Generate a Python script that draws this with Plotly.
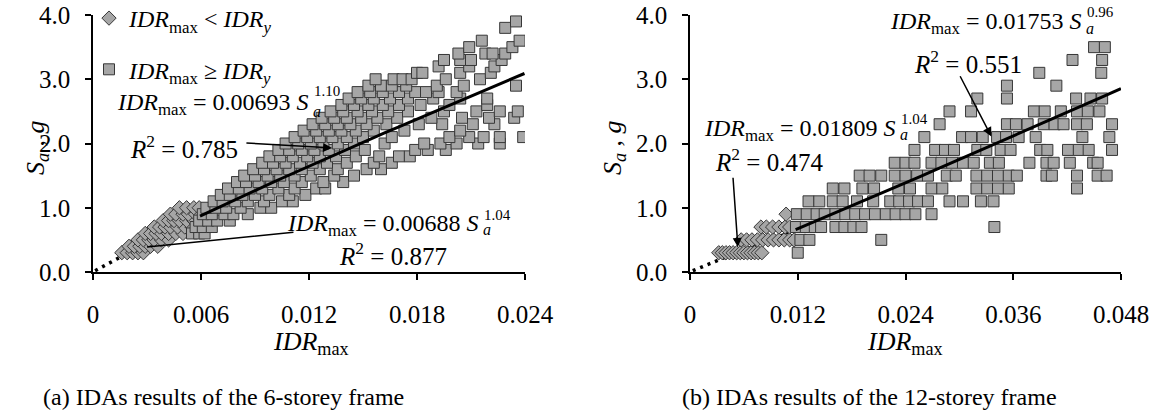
import plotly.graph_objects as go

FONT = "Liberation Serif"
W, H = 1155, 419

# ---------------- DATA ----------------
# IDR_max values are given in units of 1e-3 (per-mille) per Sa level (g)

# (a) 6-storey frame, IDR_max < IDR_y  (diamonds)
a_dia_sa = [0.3, 0.4, 0.5, 0.6, 0.7, 0.8, 0.9, 1.0]
a_dia_idr = [
    [1.6, 1.9, 2.2, 2.5, 2.8],
    [2.0, 2.3, 2.6, 2.9, 3.2, 3.6],
    [2.5, 2.8, 3.1, 3.4, 3.8, 4.2],
    [2.9, 3.2, 3.5, 3.8, 4.2, 4.6, 5.0],
    [3.4, 3.7, 4.0, 4.3, 4.7, 5.1, 5.5],
    [3.9, 4.2, 4.5, 4.8, 5.2, 5.6],
    [4.3, 4.6, 5.0, 5.3, 5.7],
    [4.8, 5.2, 5.6, 5.9],
]

# (a) 6-storey frame, IDR_max >= IDR_y  (squares)
a_sq_sa = [0.6, 0.7, 0.8, 0.9, 1.0, 1.1, 1.2, 1.3, 1.4, 1.5, 1.6, 1.7, 1.8, 1.9,
           2.0, 2.1, 2.2, 2.3, 2.4, 2.5, 2.6, 2.7, 2.8, 2.9, 3.0, 3.1, 3.2, 3.3,
           3.4, 3.5, 3.6, 3.8, 3.9]
a_sq_idr = [
    [5.5, 5.9, 6.2],
    [5.7, 6.1, 6.6],
    [5.9, 6.4, 6.9, 7.6],
    [6.1, 6.6, 7.3, 7.8, 8.6],
    [6.3, 6.8, 7.4, 8.2, 9.3, 9.9],
    [6.7, 7.2, 7.9, 8.6, 9.5, 10.5, 11.1],
    [7.1, 7.6, 8.3, 9.0, 9.8, 10.9, 11.8],
    [7.5, 8.1, 8.7, 9.4, 10.3, 11.2, 12.4, 12.9],
    [8.0, 8.5, 9.2, 9.9, 10.6, 11.6, 12.8, 13.9],
    [8.4, 9.0, 9.7, 10.4, 11.2, 12.1, 13.4, 14.5],
    [8.9, 9.5, 10.2, 10.9, 11.6, 12.6, 13.6, 15.2, 16.0],
    [9.4, 10.0, 10.7, 11.5, 12.2, 13.0, 14.1, 15.6, 16.6],
    [9.8, 10.4, 11.1, 11.9, 12.6, 13.5, 14.6, 15.9, 17.0, 17.6],
    [10.3, 10.9, 11.6, 12.3, 13.1, 14.0, 15.1, 17.9, 18.6, 19.6],
    [10.7, 11.4, 12.1, 12.8, 13.6, 14.5, 16.2, 18.4, 19.3, 20.2, 21.4, 22.6],
    [11.2, 11.9, 12.6, 13.3, 14.1, 15.0, 16.6, 19.8, 20.9, 21.7, 22.6, 23.9],
    [11.7, 12.4, 13.1, 13.8, 14.6, 15.6, 17.3, 20.4],
    [12.2, 12.9, 13.6, 14.3, 15.2, 16.3, 18.1, 19.4, 21.1, 22.3],
    [12.7, 13.4, 14.1, 14.9, 15.8, 16.9, 18.8, 20.5, 22.0, 23.4],
    [13.2, 13.9, 14.7, 15.5, 16.4, 17.5, 19.5, 21.3, 22.6, 23.6],
    [13.8, 14.5, 15.3, 16.1, 17.0, 18.2, 19.8, 21.9],
    [14.2, 14.9, 15.6, 16.5, 17.5, 18.9, 20.4, 21.9],
    [14.7, 15.4, 16.1, 17.0, 17.9, 18.5, 19.2, 20.2],
    [15.3, 16.0, 16.6, 17.4, 19.1, 20.6, 23.5],
    [15.7, 16.7, 17.2, 17.7, 19.6, 21.5],
    [18.0, 18.3, 20.4, 22.1],
    [19.2, 20.9, 22.3],
    [19.5, 20.4, 21.0, 22.7],
    [20.3, 21.8, 22.2, 22.9],
    [20.9, 23.3],
    [21.6, 23.7],
    [22.9],
    [23.5],
]

# (b) 12-storey frame, IDR_max < IDR_y  (diamonds)
b_dia_sa = [0.3, 0.5, 0.7, 0.9]
b_dia_idr = [
    [3.2, 3.6, 4.0, 4.4, 4.8, 5.2, 5.6, 6.0, 6.4, 6.8, 7.2, 7.6, 8.0],
    [5.7, 6.3, 6.9, 7.5, 8.1, 8.7, 9.3, 9.9, 10.5, 11.1, 11.6],
    [7.9, 8.5, 9.2, 9.9, 10.6, 11.1],
    [10.7],
]

# (b) 12-storey frame, IDR_max >= IDR_y  (squares)
b_sq_sa = [0.3, 0.5, 0.7, 0.9, 1.1, 1.3, 1.5, 1.7, 1.9, 2.1, 2.3, 2.5, 2.7,
           2.9, 3.1, 3.3, 3.5]
b_sq_idr = [
    [12.0],
    [12.3, 13.3, 21.3],
    [11.8, 12.9, 13.9, 14.6, 16.2, 17.2, 18.2, 19.1, 33.9],
    [11.9, 13.0, 14.1, 15.0, 16.2, 17.3, 18.4, 19.5, 20.6, 21.8, 22.9, 24.0, 25.1, 26.9],
    [13.2, 14.4, 15.9, 17.0, 18.6, 20.4, 22.3, 23.3, 24.4, 25.4, 26.5, 28.9, 30.4, 32.4, 33.8],
    [15.9, 17.2, 19.2, 20.5, 23.2, 24.5, 26.9, 28.1, 31.9, 33.1, 34.3, 35.5, 43.1],
    [18.9, 20.0, 21.3, 22.8, 24.0, 25.3, 26.5, 28.6, 29.6, 31.9, 33.1, 34.3, 35.5, 36.4,
     39.7, 40.3, 43.1, 45.4, 46.4],
    [22.8, 24.0, 25.0, 26.9, 28.0, 29.2, 30.4, 31.6, 33.4, 34.4, 37.8, 39.7, 40.5, 42.3,
     44.9, 45.4],
    [25.0, 27.3, 28.4, 29.4, 32.0, 33.0, 34.6, 35.7, 39.0, 39.8, 42.1, 43.3, 44.4, 47.0],
    [26.1, 30.3, 31.3, 32.6, 34.2, 35.2, 36.6, 38.5, 43.7, 46.7],
    [27.8, 35.3, 36.3, 37.6, 39.4, 40.6, 41.6, 43.1, 44.2, 47.0],
    [28.9, 31.3, 38.3, 39.5, 41.3, 43.1, 44.3, 45.6],
    [32.0, 35.3, 43.0, 44.6, 45.9],
    [35.3, 40.8],
    [38.9, 45.8],
    [42.6, 45.9],
    [45.0, 46.2],
]

# Fitted power laws printed on the chart: IDR_max = c * Sa^k
fit_a_dia = (0.00688, 1.04)
fit_a_sq = (0.00693, 1.10)
fit_b_dia = (0.01809, 1.04)
fit_b_sq = (0.01753, 0.96)
# Sa extent of each fitted line (dotted part from ~0 to first point)
a_dot_sa = [0.02, 0.28]
a_dia_line_sa = [0.28, 0.9]
a_sq_line_sa = [0.87, 3.09]
b_dot_sa = [0.02, 0.26]
b_dia_line_sa = [0.26, 0.66]
b_sq_line_sa = [0.66, 2.855]

x_ticks_a = [0, 0.006, 0.012, 0.018, 0.024]
x_ticks_b = [0, 0.012, 0.024, 0.036, 0.048]
x_ticktext_a = ["0", "0.006", "0.012", "0.018", "0.024"]
x_ticktext_b = ["0", "0.012", "0.024", "0.036", "0.048"]
y_ticks = [0, 1, 2, 3, 4]
y_ticktext = ["0.0", "1.0", "2.0", "3.0", "4.0"]

# ---------------- helpers ----------------
def flatten(levels, rows):
    xs, ys = [], []
    for s, row in zip(levels, rows):
        for v in row:
            xs.append(v / 1000.0)
            ys.append(s)
    return xs, ys

def fit_curve(c_k, sa_range, n=30):
    c, k = c_k
    s0, s1 = sa_range
    sas = [s0 + (s1 - s0) * i / (n - 1) for i in range(n)]
    return [c * s ** k for s in sas], sas

SQ_FILL = "rgb(166,166,166)"
EDGE = "rgb(55,55,55)"

fig = go.Figure()

def add_panel(xa, ya, dia, sq, dot_rng, dia_rng, sq_rng, fdia, fsq, legend):
    x, y = fit_curve(fdia, dot_rng, 8)
    fig.add_trace(go.Scatter(x=x, y=y, mode="lines", xaxis=xa, yaxis=ya,
                             line=dict(color="black", width=3.5, dash="3px,5px"),
                             showlegend=False, hoverinfo="skip"))
    x, y = fit_curve(fdia, dia_rng)
    fig.add_trace(go.Scatter(x=x, y=y, mode="lines", xaxis=xa, yaxis=ya,
                             line=dict(color="black", width=2.5),
                             showlegend=False, hoverinfo="skip"))
    x, y = flatten(*dia)
    fig.add_trace(go.Scatter(x=x, y=y, mode="markers", xaxis=xa, yaxis=ya,
                             name="<i>IDR</i><sub>max</sub> &lt; <i>IDR</i><sub><i>y</i></sub>",
                             legendgroup="g1", showlegend=legend,
                             marker=dict(symbol="diamond", size=11, color=SQ_FILL,
                                         line=dict(color=EDGE, width=1))))
    x, y = flatten(*sq)
    fig.add_trace(go.Scatter(x=x, y=y, mode="markers", xaxis=xa, yaxis=ya,
                             name="<i>IDR</i><sub>max</sub> ≥ <i>IDR</i><sub><i>y</i></sub>",
                             legendgroup="g2", showlegend=legend,
                             marker=dict(symbol="square", size=11, color=SQ_FILL,
                                         line=dict(color=EDGE, width=1))))
    x, y = fit_curve(fsq, sq_rng)
    fig.add_trace(go.Scatter(x=x, y=y, mode="lines", xaxis=xa, yaxis=ya,
                             line=dict(color="black", width=3),
                             showlegend=False, hoverinfo="skip"))

add_panel("x", "y", (a_dia_sa, a_dia_idr), (a_sq_sa, a_sq_idr),
          a_dot_sa, a_dia_line_sa, a_sq_line_sa, fit_a_dia, fit_a_sq, True)
add_panel("x2", "y2", (b_dia_sa, b_dia_idr), (b_sq_sa, b_sq_idr),
          b_dot_sa, b_dia_line_sa, b_sq_line_sa, fit_b_dia, fit_b_sq, False)

def px2x(px):
    return px / W

def py2y(py):
    return 1 - py / H

TICKFONT = dict(family=FONT, size=25, color="black")
xax_common = dict(showline=True, linecolor="black", linewidth=1.5, ticks="outside",
                  ticklen=6, tickcolor="black", tickwidth=1.5, showgrid=False,
                  zeroline=False, tickfont=TICKFONT, ticklabelstandoff=13)
yax_common = dict(showline=True, linecolor="black", linewidth=1.5, ticks="outside",
                  ticklen=6, tickcolor="black", tickwidth=1.5, showgrid=False,
                  zeroline=False, tickfont=TICKFONT, ticklabelstandoff=10)

fig.update_layout(
    width=W, height=H, margin=dict(l=0, r=0, t=0, b=0, autoexpand=False),
    paper_bgcolor="white", plot_bgcolor="white",
    font=dict(family=FONT, size=20, color="black"),
    xaxis=dict(domain=[px2x(93), px2x(525)], range=[0, 0.024], tickvals=x_ticks_a,
               ticktext=x_ticktext_a, anchor="y", **xax_common),
    yaxis=dict(domain=[py2y(272), py2y(15)], range=[0, 4.0], tickvals=y_ticks,
               ticktext=y_ticktext, anchor="x", **yax_common),
    xaxis2=dict(domain=[px2x(690), px2x(1121)], range=[0, 0.048], tickvals=x_ticks_b,
                ticktext=x_ticktext_b, anchor="y2", **xax_common),
    yaxis2=dict(domain=[py2y(272), py2y(15)], range=[0, 4.0], tickvals=y_ticks,
                ticktext=y_ticktext, anchor="x2", **yax_common),
    legend=dict(x=px2x(89), y=py2y(-4), xanchor="left", yanchor="top",
                bgcolor="rgba(0,0,0,0)", traceorder="grouped", tracegroupgap=17,
                font=dict(family=FONT, size=24), itemwidth=30),
    showlegend=True,
)

ann = []
def text(px, py, s, size=24, xanchor="left"):
    ann.append(dict(x=px2x(px), y=py2y(py), xref="paper", yref="paper", text=s,
                    showarrow=False, xanchor=xanchor, yanchor="middle",
                    font=dict(family=FONT, size=size, color="black")))

def equation(s_end_px, caps_py, coef, expo, sup_py, sub_py):
    # main part right-aligned at the end of "S"; exponent stacked over subscript
    text(s_end_px, caps_py + 3,
         "<i>IDR</i><sub>max</sub> = " + coef + " <i>S</i>", xanchor="right")
    text(s_end_px + 1, sub_py, "<i>a</i>", size=16)
    text(s_end_px + 2, sup_py, expo, size=15)

# panel (a)
equation(310, 101, "0.00693", "1.10", 91, 111)
text(128, 147, "<i>R</i><sup>2</sup> = 0.785", size=25)
equation(480, 222, "0.00688", "1.04", 215, 230)
text(337, 254, "<i>R</i><sup>2</sup> = 0.877", size=25)
# panel (b)
equation(897, 127, "0.01809", "1.04", 119, 135)
text(713, 160, "<i>R</i><sup>2</sup> = 0.474", size=25)
equation(1083, 20, "0.01753", "0.96", 12, 28)
text(912, 62, "<i>R</i><sup>2</sup> = 0.551", size=25)

# axis titles and captions
for cx in (311, 905):
    text(cx, 343, "<i>IDR</i><sub>max</sub>", size=26, xanchor="center")
for cx in (19, 614):
    ann.append(dict(x=px2x(cx), y=py2y(148), xref="paper", yref="paper",
                    text="<i>S</i><sub><i>a</i></sub>&nbsp;,&nbsp;<i>g</i>", showarrow=False,
                    textangle=-90, font=dict(family=FONT, size=26, color="black")))
text(223, 397, "(a) IDAs results of the 6-storey frame", size=24, xanchor="center")
text(869, 397, "(b) IDAs results of the 12-storey frame", size=24, xanchor="center")

# arrows (tail -> tip), data coordinates
def arrow(xr, yr, tail, tip, head=2):
    ann.append(dict(x=tip[0], y=tip[1], ax=tail[0], ay=tail[1], xref=xr, yref=yr,
                    axref=xr, ayref=yr, text="", showarrow=True, arrowhead=head,
                    arrowsize=1.2, arrowwidth=1.5, arrowcolor="black", standoff=0))

arrow("x", "y", (0.00844, 2.01), (0.01328, 1.93))
arrow("x", "y", (0.01122, 0.62), (0.0030, 0.39), head=0)
arrow("x2", "y2", (0.00478, 1.49), (0.00533, 0.39))
arrow("x2", "y2", (0.0300, 3.07), (0.03356, 2.11))

fig.update_layout(annotations=ann)
fig.write_html("out.html",
               config={"displayModeBar": False},
               post_script="document.body.style.margin='0';"
                           "document.body.style.overflow='hidden';")
